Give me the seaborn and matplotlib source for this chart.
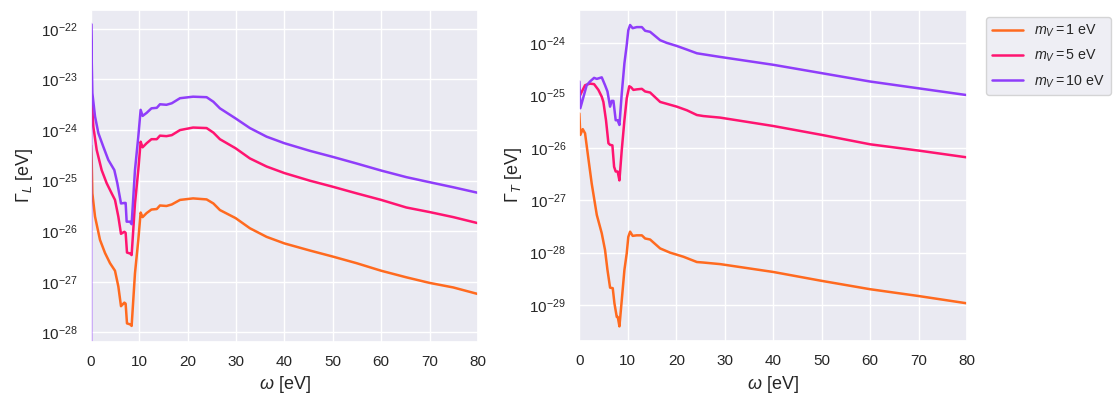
import numpy as np
import pandas as pd
import matplotlib
matplotlib.use("Agg")
import matplotlib.pyplot as plt
import seaborn as sns

# ---------------- data (log10 of Gamma in eV) ----------------
masses = ["$m_V = 1$ eV", "$m_V = 5$ eV", "$m_V = 10$ eV"]
colors = ["#ff6a1f", "#ff1470", "#8f3dfa"]

# Left panel: Gamma_L
omega_L_1 = [0, 0.14, 0.28, 0.83, 1.86, 2.9, 3.93, 4.96, 5.65, 6.2,
             6.89, 7.16, 7.44, 8.1, 8.4, 9.09, 9.78, 10.26, 10.67, 11.5,
             12.5, 13.6, 14.26, 15.6, 16.7, 18.4, 21.1, 23.9, 25.3, 26.65,
             29.9, 32.85, 36.3, 40, 45.25, 50, 54.9, 60, 65.2, 70,
             74.9, 80]
logG_L_1 = [-24.3, -24.6, -25.25, -25.71, -26.17, -26.43, -26.63, -26.78, -27.09, -27.48,
            -27.41, -27.43, -27.82, -27.84, -27.87, -26.83, -26.17, -25.63, -25.72, -25.64,
            -25.57, -25.56, -25.49, -25.50, -25.47, -25.38, -25.35, -25.37, -25.45, -25.58,
            -25.74, -25.94, -26.11, -26.24, -26.38, -26.50, -26.63, -26.78, -26.91, -27.02,
            -27.11, -27.24]

omega_L_5 = [0, 0.14, 0.48, 1.17, 2.2, 3.24, 4.27, 4.96, 5.65, 6.2,
             6.89, 7.16, 7.44, 8.1, 8.4, 9.09, 9.78, 10.26, 10.67, 11.5,
             12.5, 13.6, 14.26, 15.6, 16.7, 18.4, 21.1, 23.9, 25.3, 26.65,
             29.9, 32.85, 36.3, 40, 45.25, 50, 54.9, 60, 65.2, 70,
             74.9, 80]
logG_L_5 = [-23.2, -23.35, -23.93, -24.39, -24.79, -25.05, -25.25, -25.38, -25.71, -26.05,
            -26.01, -26.03, -26.42, -26.44, -26.47, -25.45, -24.79, -24.23, -24.34, -24.26,
            -24.18, -24.18, -24.11, -24.12, -24.10, -24.00, -23.95, -23.96, -24.05, -24.18,
            -24.36, -24.56, -24.72, -24.85, -25.00, -25.12, -25.25, -25.38, -25.53, -25.62,
            -25.72, -25.84]

omega_L_10 = [0, 0.02, 0.14, 0.28, 0.83, 1.52, 2.55, 3.58, 4.82, 5.44,
              6.2, 6.89, 7.16, 7.37, 8.06, 8.4, 9.09, 9.78, 10.26, 10.67,
              11.5, 12.5, 13.6, 14.26, 15.6, 16.7, 18.4, 21.1, 23.9, 25.3,
              26.65, 29.9, 32.85, 36.3, 40, 45.25, 50, 54.9, 60, 65.2,
              70, 74.9, 80]
logG_L_10 = [-np.inf, -21.9, -22.6, -23.27, -23.73, -24.06, -24.33, -24.59, -24.79, -25.05,
             -25.45, -25.44, -25.44, -25.81, -25.81, -25.86, -24.79, -24.13, -23.60, -23.72,
             -23.66, -23.57, -23.56, -23.49, -23.50, -23.47, -23.37, -23.34, -23.35, -23.44,
             -23.57, -23.77, -23.96, -24.13, -24.26, -24.41, -24.53, -24.66, -24.80, -24.93,
             -25.03, -25.13, -25.24]

# Right panel: Gamma_T
omega_T_1 = [0, 0.2, 0.7, 1.18, 1.86, 2.55, 3.6, 4.62, 5.3, 5.8,
             6.34, 6.89, 7.24, 7.72, 7.93, 8.27, 8.75, 9.3, 9.78, 10.1,
             10.47, 11, 11.85, 12.9, 13.57, 14.6, 16.67, 18.7, 21.5, 24.25,
             25.6, 29.06, 40, 50, 60, 70, 80]
logG_T_1 = [-25.34, -25.75, -25.64, -25.72, -26.20, -26.68, -27.28, -27.63, -27.95, -28.33,
            -28.67, -28.68, -28.97, -29.23, -29.23, -29.41, -28.91, -28.33, -28.01, -27.70,
            -27.60, -27.68, -27.67, -27.67, -27.73, -27.75, -27.92, -28.00, -28.08, -28.18,
            -28.19, -28.22, -28.37, -28.54, -28.70, -28.83, -28.97]

omega_T_5 = [0, 1.18, 2.2, 3.04, 3.93, 4.62, 4.96, 5.5, 6.0, 6.34,
             6.82, 7.17, 7.5, 7.9, 8.27, 8.75, 9.3, 9.78, 10.3, 10.67,
             11.15, 11.85, 12.9, 13.57, 14.6, 16.67, 20.1, 22.2, 24.25, 25.6,
             29.06, 40, 50, 60, 70, 80]
logG_T_5 = [-25.02, -24.80, -24.77, -24.78, -24.89, -25.02, -25.12, -25.47, -25.91, -25.94,
            -25.95, -26.36, -26.45, -26.45, -26.62, -26.04, -25.47, -25.05, -24.82, -24.84,
            -24.89, -24.88, -24.87, -24.92, -24.94, -25.12, -25.21, -25.28, -25.37, -25.39,
            -25.42, -25.58, -25.75, -25.93, -26.05, -26.18]

omega_T_10 = [0, 0.2, 0.83, 1.52, 2.2, 3.04, 3.6, 4.62, 5.3, 5.8,
              6.34, 6.68, 7.03, 7.5, 7.9, 8.27, 8.75, 9.3, 9.78, 10.1,
              10.47, 11, 11.85, 12.9, 13.57, 14.6, 16.67, 18, 20.1, 22.2,
              24.25, 25.6, 29.06, 40, 50, 60, 70, 80]
logG_T_10 = [-24.73, -25.24, -25.03, -24.80, -24.73, -24.66, -24.68, -24.65, -24.80, -24.92,
             -25.21, -25.10, -25.10, -25.47, -25.47, -25.56, -24.96, -24.38, -24.03, -23.75,
             -23.65, -23.71, -23.69, -23.69, -23.76, -23.78, -23.94, -23.99, -24.05, -24.12,
             -24.19, -24.21, -24.26, -24.41, -24.57, -24.73, -24.86, -24.99]

xticks = [0, 10, 20, 30, 40, 50, 60, 70, 80]
yticks_L = [1e-28, 1e-27, 1e-26, 1e-25, 1e-24, 1e-23, 1e-22]
yticks_T = [1e-29, 1e-28, 1e-27, 1e-26, 1e-25, 1e-24]


def frame(omegas, logs):
    parts = []
    for m, om, lg in zip(masses, omegas, logs):
        parts.append(pd.DataFrame({"omega": om,
                                   "Gamma": np.power(10.0, np.asarray(lg, float)),
                                   "mass": m}))
    return pd.concat(parts, ignore_index=True)


df_L = frame([omega_L_1, omega_L_5, omega_L_10], [logG_L_1, logG_L_5, logG_L_10])
df_T = frame([omega_T_1, omega_T_5, omega_T_10], [logG_T_1, logG_T_5, logG_T_10])

sns.set_theme(style="darkgrid")
plt.rcParams["font.family"] = ["Liberation Sans", "DejaVu Sans"]
plt.rcParams["mathtext.fontset"] = "custom"
plt.rcParams["mathtext.rm"] = "Liberation Sans"
plt.rcParams["mathtext.it"] = "Liberation Sans:italic"
plt.rcParams["mathtext.bf"] = "Liberation Sans:bold"

fig = plt.figure(figsize=(11.18, 3.94), dpi=100)
axL = fig.add_axes([0.0814, 0.133, 0.3461, 0.8416])
axT = fig.add_axes([0.5182, 0.135, 0.3468, 0.8396])

palette = dict(zip(masses, colors))
for ax, df in ((axL, df_L), (axT, df_T)):
    sns.lineplot(data=df, x="omega", y="Gamma", hue="mass", hue_order=masses,
                 palette=palette, estimator=None, sort=False, lw=1.8, ax=ax,
                 legend=(ax is axT))
    ax.set_yscale("log")
    ax.set_xlim(0, 80)
    ax.set_xticks(xticks)
    ax.set_xlabel(r"$\omega$ [eV]", fontsize=13)
    ax.tick_params(labelsize=11)
    ax.minorticks_off()

axL.set_ylim(10 ** -28.18, 10 ** -21.627)
axT.set_ylim(10 ** -29.686, 10 ** -23.363)
axL.set_yticks(yticks_L)
axT.set_yticks(yticks_T)
axL.set_ylabel(r"$\Gamma_L$ [eV]", fontsize=13)
axT.set_ylabel(r"$\Gamma_T$ [eV]", fontsize=13)

leg = axT.legend(loc="upper left", bbox_to_anchor=(0.882, 0.957),
                 bbox_transform=fig.transFigure, borderaxespad=0, fontsize=10.3,
                 handlelength=2.17, handletextpad=0.77, labelspacing=0.62)

fig.savefig("out.png", dpi=100)
